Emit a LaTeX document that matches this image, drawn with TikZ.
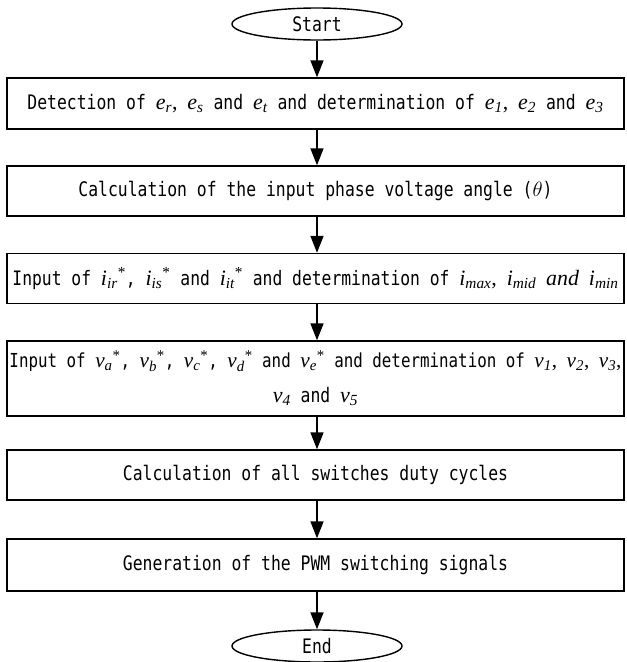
\documentclass[tikz,border=0pt]{standalone}
\usepackage{amsmath}
\usepackage{graphicx}
\usepackage{fontspec}
\setmainfont{DejaVu Sans Mono}[FakeStretch=0.82]
\newfontfamily\tms{Liberation Serif}[Scale=1.1]
\usetikzlibrary{shapes.geometric,arrows.meta}
\newcommand\mv[2]{\ensuremath{\text{\tms\itshape #1}_{\text{\tms\itshape #2}}}}
\newcommand\mvs[2]{\ensuremath{\text{\tms\itshape #1}_{\text{\tms\itshape #2}}{}^{\text{\tms *}}}}
\newcommand\tc{{\tms,}}
\begin{document}
\begin{tikzpicture}[x=1pt,y=-1pt,
  font=\fontsize{20}{35}\selectfont,
  box/.style={draw,line width=1.4pt,minimum width=617pt,minimum height=#1,inner sep=0pt,align=center},
  term/.style={draw,ellipse,line width=1.4pt,minimum width=170pt,minimum height=32pt,inner sep=0pt},
  arr/.style={-{Triangle[length=17pt,width=13pt]},line width=1.6pt}]
\useasboundingbox (0,0) rectangle (627,662);
\node[term] (start) at (317,24) {Start};
\node[box=51pt] (b1) at (315.5,103.5) {Detection of \mv{e}{r}\tc{} \mv{e}{s} and \mv{e}{t} and determination of \mv{e}{1}\tc{} \mv{e}{2} and \mv{e}{3}};
\node[box=50pt] (b2) at (315.5,191) {Calculation of the input phase voltage angle ($\theta$)};
\node[box=50pt] (b3) at (315.5,278.5) {\resizebox{606pt}{!}{Input of \mvs{i}{ir}, \mvs{i}{is} and \mvs{i}{it} and determination of \mv{i}{max}\tc{} \mv{i}{mid} {\tms\itshape and} \mv{i}{min}}};
\node[box=75pt] (b4) at (315.5,378.5) {\resizebox{612pt}{!}{Input of \mvs{v}{a}, \mvs{v}{b}, \mvs{v}{c}, \mvs{v}{d} and \mvs{v}{e} and determination of \mv{v}{1}\tc{} \mv{v}{2}\tc{} \mv{v}{3}\tc}\\ \mv{v}{4} and \mv{v}{5}};
\node[box=50pt] (b5) at (315.5,475) {Calculation of all switches duty cycles};
\node[box=52pt] (b6) at (315.5,565) {Generation of the PWM switching signals};
\node[term] (end) at (317,646) {End};
\draw[arr] (start.south) -- (start.south |- b1.north);
\draw[arr] (b1.south -| start) -- (start |- b2.north);
\draw[arr] (b2.south -| start) -- (start |- b3.north);
\draw[arr] (b3.south -| start) -- (start |- b4.north);
\draw[arr] (b4.south -| start) -- (start |- b5.north);
\draw[arr] (b5.south -| start) -- (start |- b6.north);
\draw[arr] (b6.south -| end) -- (end.north);
\end{tikzpicture}
\end{document}
